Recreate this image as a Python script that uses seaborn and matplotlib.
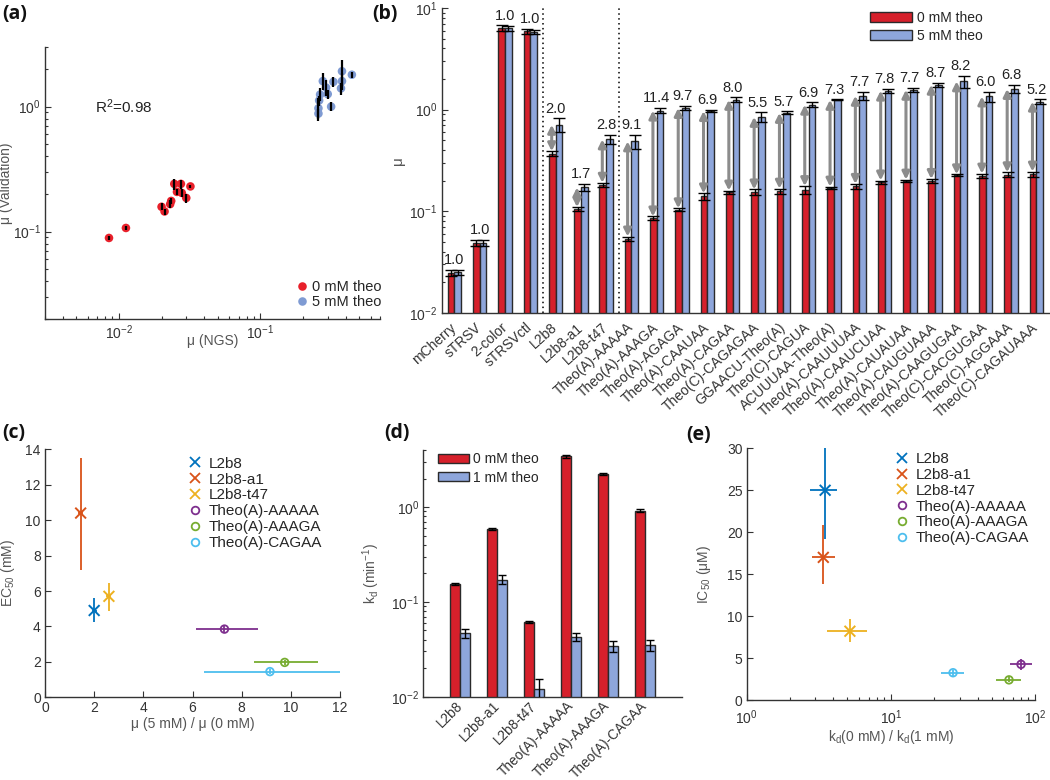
import numpy as np
import pandas as pd
import matplotlib
matplotlib.use("Agg")
import matplotlib.pyplot as plt
import seaborn as sns
from matplotlib.lines import Line2D
from matplotlib.ticker import NullFormatter, MultipleLocator

# ---------------- data ----------------
# (a) NGS vs validation
a_ngs_0 = [0.0085, 0.0112, 0.0200, 0.0210, 0.0230, 0.0234, 0.0246, 0.0257, 0.0274, 0.0278, 0.0299, 0.0320]
a_val_0 = [0.089, 0.107, 0.158, 0.145, 0.166, 0.176, 0.241, 0.208, 0.241, 0.204, 0.186, 0.230]
a_err_0 = [0.003, 0.003, 0.010, 0.008, 0.012, 0.010, 0.025, 0.010, 0.020, 0.015, 0.015, 0.008]
a_ngs_5 = [0.257, 0.257, 0.260, 0.264, 0.276, 0.291, 0.299, 0.316, 0.328, 0.371, 0.377, 0.377, 0.443]
a_val_5 = [0.88, 0.97, 1.12, 1.25, 1.60, 1.42, 1.26, 1.00, 1.58, 1.40, 1.60, 1.92, 1.80]
a_err_5 = [0.08, 0.20, 0.10, 0.15, 0.25, 0.20, 0.10, 0.08, 0.15, 0.15, 0.25, 0.45, 0.10]
a_r2_text = "R$^2$=0.98"

# (b) mu per construct
b_names = ["mCherry", "sTRSV", "2-color", "sTRSVctl", "L2b8", "L2b8-a1", "L2b8-t47",
           "Theo(A)-AAAAA", "Theo(A)-AAAGA", "Theo(A)-AGAGA", "Theo(A)-CAAUAA", "Theo(A)-CAGAA",
           "Theo(C)-CAGAGAA", "GGAACU-Theo(A)", "Theo(C)-CAGUA", "ACUUUAA-Theo(A)",
           "Theo(A)-CAAUUUAA", "Theo(A)-CAAUCUAA", "Theo(A)-CAUAUAA", "Theo(A)-CAUGUAAA",
           "Theo(A)-CAAGUGAA", "Theo(C)-CACGUGAA", "Theo(C)-AGGAAA", "Theo(C)-CAGAUAAA"]
b_mu0 = [0.0248, 0.049, 6.36, 5.9, 0.37, 0.105, 0.183, 0.0535, 0.086, 0.104, 0.140, 0.154,
         0.154, 0.157, 0.162, 0.170, 0.176, 0.193, 0.200, 0.200, 0.226, 0.225, 0.229, 0.233]
b_mu5 = [0.0252, 0.049, 6.30, 5.8, 0.71, 0.172, 0.510, 0.488, 0.98, 1.04, 0.97, 1.25,
         0.85, 0.93, 1.12, 1.25, 1.37, 1.54, 1.57, 1.76, 1.90, 1.35, 1.60, 1.20]
b_err0 = [0.0015, 0.003, 0.40, 0.30, 0.02, 0.005, 0.008, 0.003, 0.003, 0.003, 0.010, 0.006,
          0.010, 0.010, 0.015, 0.005, 0.010, 0.008, 0.005, 0.008, 0.005, 0.010, 0.013, 0.013]
b_err5 = [0.0015, 0.003, 0.40, 0.30, 0.11, 0.015, 0.050, 0.080, 0.060, 0.050, 0.030, 0.070,
          0.090, 0.030, 0.060, 0.010, 0.120, 0.070, 0.080, 0.080, 0.250, 0.150, 0.150, 0.060]
b_ratio = ["1.0", "1.0", "1.0", "1.0", "2.0", "1.7", "2.8", "9.1", "11.4", "9.7", "6.9", "8.0",
           "5.5", "5.7", "6.9", "7.3", "7.7", "7.8", "7.7", "8.7", "8.2", "6.0", "6.8", "5.2"]
b_n_controls = 4
b_separators = [3.5, 6.5]

# (c) EC50 vs fold change
c_names = ["L2b8", "L2b8-a1", "L2b8-t47", "Theo(A)-AAAAA", "Theo(A)-AAAGA", "Theo(A)-CAGAA"]
c_fold = [2.0, 1.45, 2.6, 7.3, 9.75, 9.15]
c_fold_lo = [1.9, 1.35, 2.5, 6.15, 8.5, 6.45]
c_fold_hi = [2.1, 1.55, 2.7, 8.65, 11.1, 12.0]
c_ec50 = [4.9, 10.4, 5.7, 3.85, 1.97, 1.45]
c_ec50_lo = [4.25, 7.2, 4.85, 3.7, 1.85, 1.3]
c_ec50_hi = [5.6, 13.5, 6.45, 4.0, 2.1, 1.6]

# (d) kd
d_names = ["L2b8", "L2b8-a1", "L2b8-t47", "Theo(A)-AAAAA", "Theo(A)-AAAGA", "Theo(A)-CAGAA"]
d_kd0 = [0.156, 0.59, 0.0616, 3.42, 2.24, 0.92]
d_kd1 = [0.0465, 0.172, 0.0122, 0.0428, 0.0342, 0.035]
d_err0 = [0.004, 0.01, 0.0015, 0.15, 0.06, 0.03]
d_err1 = [0.005, 0.018, 0.003, 0.004, 0.0045, 0.0045]

# (e) IC50 vs kd ratio
e_ratio = [3.5, 3.4, 5.2, 80.0, 66.0, 27.0]
e_ratio_lo = [2.75, 2.83, 3.6, 66.7, 53.8, 22.2]
e_ratio_hi = [4.2, 4.1, 6.8, 96.0, 80.0, 32.3]
e_ic50 = [25.0, 17.0, 8.2, 4.25, 2.4, 3.25]
e_ic50_lo = [19.2, 13.8, 6.9, 3.6, 2.1, 2.9]
e_ic50_hi = [30.0, 20.9, 9.7, 4.9, 2.7, 3.6]

# ---------------- style ----------------
sns.set_theme(style="ticks")
plt.rcParams["font.family"] = ["Liberation Sans", "DejaVu Sans"]
plt.rcParams["mathtext.fontset"] = "custom"
plt.rcParams["mathtext.rm"] = "Liberation Sans"
plt.rcParams["mathtext.it"] = "Liberation Sans:italic"
plt.rcParams["mathtext.default"] = "regular"
plt.rcParams["axes.edgecolor"] = "#333333"
plt.rcParams["xtick.color"] = "#333333"
plt.rcParams["ytick.color"] = "#333333"
plt.rcParams["axes.labelcolor"] = "#555555"

RED_BAR = "#D6202B"
BLUE_BAR = "#8EA6DB"
EDGE = "#2a2a2a"
RED_PT = "#E8202A"
BLUE_PT = "#7F9BD3"
MAT = ["#0072BD", "#D95319", "#EDB120", "#7E2F8E", "#77AC30", "#4DBEEE"]
MARKS = ["x", "x", "x", "o", "o", "o"]
TFS = 10

W, H = 1050, 780
fig = plt.figure(figsize=(W / 100, H / 100), dpi=100)


def px_axes(l, t, r, b):
    return fig.add_axes([l / W, 1 - b / H, (r - l) / W, (b - t) / H])


def style_ax(ax):
    sns.despine(ax=ax)
    ax.tick_params(which="both", direction="in", labelsize=TFS, width=0.8, pad=3)
    ax.tick_params(which="major", length=4)
    ax.tick_params(which="minor", length=2.5)
    for s in ("left", "bottom"):
        ax.spines[s].set_linewidth(1.0)


def marker_scatter(ax, df, x, y):
    pal = dict(zip(c_names, MAT))
    for mk in ("x", "o"):
        names = [n for n, m in zip(c_names, MARKS) if m == mk]
        sub = df[df["construct"].isin(names)]
        if mk == "x":
            sns.scatterplot(data=sub, x=x, y=y, hue="construct", palette=pal,
                            hue_order=names, marker="x", s=60, linewidth=1.4,
                            legend=False, ax=ax, zorder=3)
        else:
            sns.scatterplot(data=sub, x=x, y=y, hue="construct", palette=pal,
                            hue_order=names, marker="o", s=30, linewidth=1.3,
                            legend=False, ax=ax, zorder=3)
            coll = ax.collections[-1]
            cols = coll.get_facecolors().copy()
            coll.set_edgecolors(cols)
            coll.set_facecolors("none")
            coll.set_linewidths(1.3)


# ---------------- (a) ----------------
ax = px_axes(45, 47, 380, 319)
a_df = pd.DataFrame({
    "ngs": a_ngs_0 + a_ngs_5,
    "val": a_val_0 + a_val_5,
    "cond": ["0 mM theo"] * len(a_ngs_0) + ["5 mM theo"] * len(a_ngs_5),
})
sns.scatterplot(data=a_df, x="ngs", y="val", hue="cond", palette=[RED_PT, BLUE_PT],
                s=38, edgecolor="none", ax=ax, zorder=2)
ax.errorbar(a_ngs_0 + a_ngs_5, a_val_0 + a_val_5, yerr=a_err_0 + a_err_5, fmt="none",
            ecolor="black", elinewidth=1.6, zorder=3)
ax.set_xscale("log")
ax.set_yscale("log")
ax.set_xlim(0.003, 0.7)
ax.set_ylim(0.02, 3)
ax.xaxis.set_minor_formatter(NullFormatter())
ax.yaxis.set_minor_formatter(NullFormatter())
ax.set_xlabel("μ (NGS)", fontsize=TFS)
ax.set_ylabel("μ (Validation)", fontsize=TFS)
ax.xaxis.set_label_coords(0.5, -0.055)
ax.yaxis.set_label_coords(-0.095, 0.5)
ax.text(0.0068, 1.0, a_r2_text, fontsize=11, color="#222222", va="center", ha="left")
h, l = ax.get_legend_handles_labels()
ax.legend(h, l, loc="lower left", bbox_to_anchor=(0.745, 0.035), frameon=False,
          fontsize=10.5, handletextpad=0.2, labelspacing=0.1, borderaxespad=0,
          borderpad=0, handlelength=1.0)
style_ax(ax)

# ---------------- (b) ----------------
ax = px_axes(441.7, 8, 1049, 313)
nb = len(b_names)
b_df = pd.DataFrame({
    "construct": b_names * 2,
    "mu": b_mu0 + b_mu5,
    "cond": ["0 mM theo"] * nb + ["5 mM theo"] * nb,
})
sns.barplot(data=b_df, x="construct", y="mu", hue="cond", palette=[RED_BAR, BLUE_BAR],
            width=0.53, gap=0, errorbar=None, edgecolor=EDGE, linewidth=1.0,
            saturation=1, ax=ax)
ax.set_yscale("log")
ax.set_ylim(0.01, 10)
ax.set_xlim(-0.5, nb - 0.5)
bx0 = [p.get_x() + p.get_width() / 2 for p in ax.patches[:nb]]
bx1 = [p.get_x() + p.get_width() / 2 for p in ax.patches[nb:2 * nb]]
ax.errorbar(bx0, b_mu0, yerr=b_err0, fmt="none", ecolor="black", elinewidth=1.0,
            capsize=4.5, capthick=1.0, zorder=4)
ax.errorbar(bx1, b_mu5, yerr=b_err5, fmt="none", ecolor="black", elinewidth=1.0,
            capsize=4.5, capthick=1.0, zorder=4)
for i in range(b_n_controls, nb):
    ax.annotate("", xy=(bx0[i] - 0.02, b_mu5[i]), xytext=(bx0[i] - 0.02, b_mu0[i] + b_err0[i]),
                arrowprops=dict(arrowstyle="<|-|>", color="#8c8c8c", lw=2.2,
                                mutation_scale=11, shrinkA=0, shrinkB=0), zorder=5)
for i in range(nb):
    top = max(b_mu0[i] + b_err0[i], b_mu5[i] + b_err5[i])
    ax.annotate(b_ratio[i], xy=(i, top), xytext=(0, 2), textcoords="offset points",
                ha="center", va="bottom", fontsize=10.5, color="#222222")
for xs in b_separators:
    ax.axvline(xs, color="black", ls=(0, (1, 2.2)), lw=1.1, zorder=1)
ax.yaxis.set_minor_formatter(NullFormatter())
ax.set_xlabel("")
ax.set_ylabel("μ", fontsize=11)
ax.yaxis.set_label_coords(-0.06, 0.5)
style_ax(ax)
ax.set_xticks(range(nb))
ax.set_xticklabels(b_names, rotation=42, ha="right", va="center", rotation_mode="anchor",
                   fontsize=10)
ax.tick_params(axis="x", length=0, pad=9)
h, l = ax.get_legend_handles_labels()
ax.legend(h, l, loc="upper left", bbox_to_anchor=(0.705, 0.99), frameon=False, fontsize=10,
          handlelength=3.0, handleheight=0.75, labelspacing=0.25, handletextpad=0.4,
          borderaxespad=0, borderpad=0)

# ---------------- (c) ----------------
ax = px_axes(45, 449.3, 340, 697.3)
c_df = pd.DataFrame({"fold": c_fold, "ec50": c_ec50, "construct": c_names})
for i in range(len(c_names)):
    ax.errorbar([c_fold[i]], [c_ec50[i]],
                xerr=[[c_fold[i] - c_fold_lo[i]], [c_fold_hi[i] - c_fold[i]]],
                yerr=[[c_ec50[i] - c_ec50_lo[i]], [c_ec50_hi[i] - c_ec50[i]]],
                fmt="none", ecolor=MAT[i], elinewidth=1.3, zorder=2)
marker_scatter(ax, c_df, "fold", "ec50")
ax.set_xlim(0, 12)
ax.set_ylim(0, 14)
ax.xaxis.set_major_locator(MultipleLocator(2))
ax.yaxis.set_major_locator(MultipleLocator(2))
ax.set_xlabel("μ (5 mM) / μ (0 mM)", fontsize=TFS)
ax.set_ylabel("EC$_{50}$ (mM)", fontsize=TFS)
ax.xaxis.set_label_coords(0.5, -0.08)
ax.yaxis.set_label_coords(-0.095, 0.5)
handles = [Line2D([], [], ls="none", marker=MARKS[i], color=MAT[i], mfc="none", mew=1.3,
                  markersize=7 if MARKS[i] == "x" else 5.5) for i in range(len(c_names))]
ax.legend(handles, c_names, loc="upper left", bbox_to_anchor=(0.478, 0.97), frameon=False,
          fontsize=11, labelspacing=0.12, handletextpad=0.3, handlelength=1.2,
          borderaxespad=0, borderpad=0)
style_ax(ax)

# ---------------- (d) ----------------
ax = px_axes(423.3, 450, 681.7, 696.7)
nd = len(d_names)
d_df = pd.DataFrame({
    "construct": d_names * 2,
    "kd": d_kd0 + d_kd1,
    "cond": ["0 mM theo"] * nd + ["1 mM theo"] * nd,
})
sns.barplot(data=d_df, x="construct", y="kd", hue="cond", palette=[RED_BAR, BLUE_BAR],
            width=0.54, gap=0, errorbar=None, edgecolor=EDGE, linewidth=1.0,
            saturation=1, ax=ax)
ax.set_yscale("log")
ax.set_ylim(0.01, 4)
ax.set_xlim(-1, nd)
dx0 = [p.get_x() + p.get_width() / 2 for p in ax.patches[:nd]]
dx1 = [p.get_x() + p.get_width() / 2 for p in ax.patches[nd:2 * nd]]
ax.errorbar(dx0, d_kd0, yerr=d_err0, fmt="none", ecolor="black", elinewidth=1.0,
            capsize=3, capthick=1.0, zorder=4)
ax.errorbar(dx1, d_kd1, yerr=d_err1, fmt="none", ecolor="black", elinewidth=1.0,
            capsize=3, capthick=1.0, zorder=4)
ax.yaxis.set_minor_formatter(NullFormatter())
ax.set_xlabel("")
ax.set_ylabel("k$_d$ (min$^{-1}$)", fontsize=TFS)
ax.yaxis.set_label_coords(-0.16, 0.5)
style_ax(ax)
ax.set_xticks(range(nd))
ax.set_xticklabels(d_names, rotation=45, ha="right", va="center", rotation_mode="anchor",
                   fontsize=9.8)
ax.tick_params(axis="x", length=0, pad=5)
h, l = ax.get_legend_handles_labels()
ax.legend(h, l, loc="upper left", bbox_to_anchor=(0.057, 0.99), frameon=False, fontsize=10,
          handlelength=2.2, handleheight=0.6, labelspacing=0.3, handletextpad=0.3,
          borderaxespad=0, borderpad=0)

# ---------------- (e) ----------------
ax = px_axes(746.7, 448.3, 1035, 700)
e_df = pd.DataFrame({"ratio": e_ratio, "ic50": e_ic50, "construct": c_names})
for i in range(len(c_names)):
    ax.errorbar([e_ratio[i]], [e_ic50[i]],
                xerr=[[e_ratio[i] - e_ratio_lo[i]], [e_ratio_hi[i] - e_ratio[i]]],
                yerr=[[e_ic50[i] - e_ic50_lo[i]], [e_ic50_hi[i] - e_ic50[i]]],
                fmt="none", ecolor=MAT[i], elinewidth=1.3, zorder=2)
marker_scatter(ax, e_df, "ratio", "ic50")
ax.set_xscale("log")
ax.set_xlim(1, 100)
ax.set_ylim(0, 30)
ax.yaxis.set_major_locator(MultipleLocator(5))
ax.xaxis.set_minor_formatter(NullFormatter())
ax.set_xlabel("k$_d$(0 mM) / k$_d$(1 mM)", fontsize=TFS)
ax.set_ylabel("IC$_{50}$ (μM)", fontsize=TFS)
ax.xaxis.set_label_coords(0.5, -0.11)
ax.yaxis.set_label_coords(-0.117, 0.5)
ax.legend(handles, c_names, loc="upper left", bbox_to_anchor=(0.506, 0.985), frameon=False,
          fontsize=11, labelspacing=0.12, handletextpad=0.3, handlelength=1.2,
          borderaxespad=0, borderpad=0)
style_ax(ax)
ax.tick_params(axis="x", pad=6)

# ---------------- panel labels ----------------
for txt, x, y in [("(a)", 2, 14), ("(b)", 372, 14), ("(c)", 2, 433), ("(d)", 384, 433),
                  ("(e)", 686, 435)]:
    fig.text(x / W, 1 - y / H, txt, fontsize=14, fontweight="bold", family="Open Sans",
             va="center", ha="left", color="#111111")

fig.savefig("out.png", dpi=100)
